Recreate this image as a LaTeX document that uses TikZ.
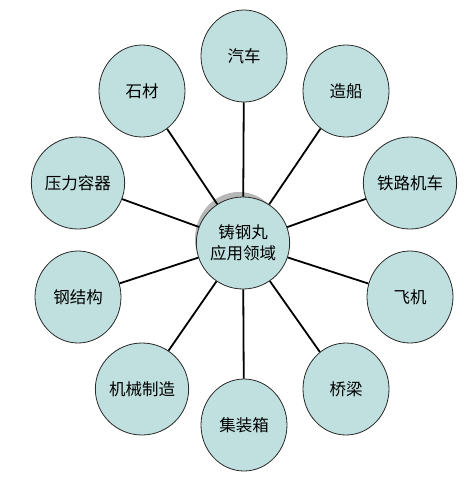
\documentclass[tikz,border=0pt]{standalone}
\usepackage{fontspec}
\setmainfont{Noto Sans CJK SC}
\usetikzlibrary{shapes.geometric,shadows}
\definecolor{bubble}{RGB}{192,224,224}
\definecolor{rim}{RGB}{40,40,40}
\begin{document}
\begin{tikzpicture}[x=1pt,y=-1pt,
  bub/.style={ellipse,draw=rim,line width=0.8pt,fill=bubble,minimum width=86pt,minimum height=92pt,inner sep=0pt,font=\fontsize{16.5}{21}\selectfont,align=center},
  link/.style={line width=1.8pt,black}]
\useasboundingbox (0,0) rectangle (474,477);
\fill[white] (0,0) rectangle (474,477);
\fill[gray!70,opacity=0.8] (239,239) ellipse [x radius=44pt,y radius=47pt];
\node[bub] (c) at (243,243) {铸钢丸\\应用领域};
\node[bub] (n1) at (244,56) {汽车};
\node[bub] (n2) at (346,91) {造船};
\node[bub] (n3) at (410,183) {铁路机车};
\node[bub] (n4) at (410,297) {飞机};
\node[bub] (n5) at (346,389) {桥梁};
\node[bub] (n6) at (244,425) {集装箱};
\node[bub] (n7) at (142,389) {机械制造};
\node[bub] (n8) at (78,297) {钢结构};
\node[bub] (n9) at (78,183) {压力容器};
\node[bub] (n10) at (142,91) {石材};
\foreach \n in {n1,n2,n3,n4,n5,n6,n7,n8,n9,n10}{\draw[link] (c) -- (\n);}
\end{tikzpicture}
\end{document}
